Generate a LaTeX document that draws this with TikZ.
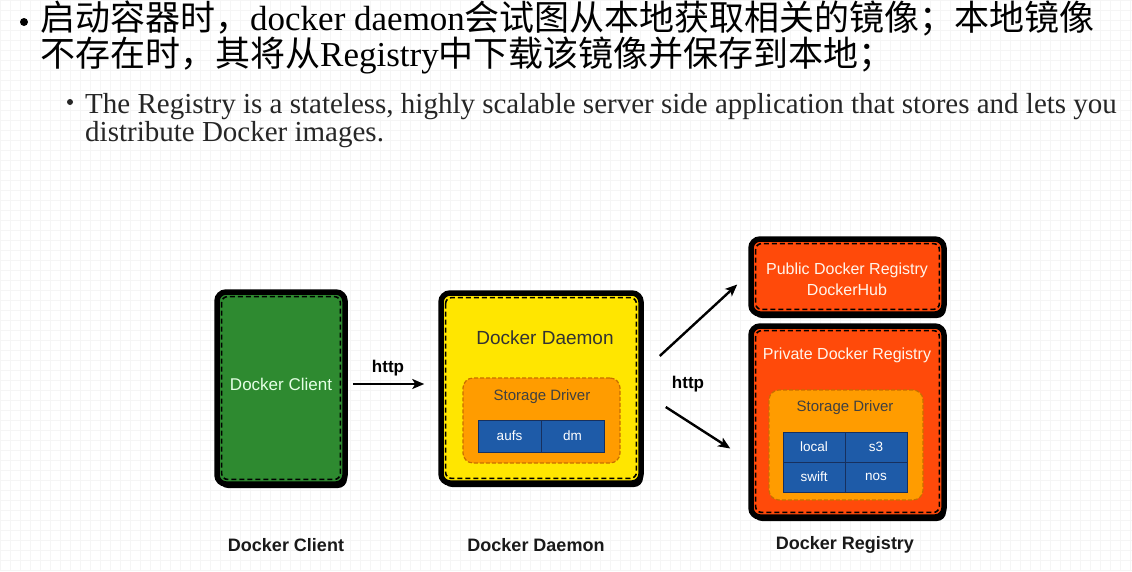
\documentclass[tikz,border=0pt]{standalone}
\usepackage{fontspec}
\setmainfont{Liberation Serif}
\newfontfamily\cjk{Noto Sans CJK SC}
\newfontfamily\dsans{Liberation Sans}
\usetikzlibrary{arrows.meta,shadows}

\definecolor{clientgreen}{HTML}{2E8A30}
\definecolor{daemonyellow}{HTML}{FFE600}
\definecolor{driverorange}{HTML}{FF9C00}
\definecolor{driveredge}{HTML}{C86E00}
\definecolor{regred}{HTML}{FF4A0A}
\definecolor{cellblue}{HTML}{1E5BA8}
\definecolor{celledge}{HTML}{17305E}

\tikzset{
	dockbox/.style={draw=black, line width=5.5pt, rounded corners=9pt, inner sep=0pt, fill=#1,
		drop shadow={shadow xshift=2pt, shadow yshift=-4pt, opacity=1, fill=black},
		path picture={\draw[black, line width=1.6pt, dash pattern=on 5pt off 3pt, rounded corners=6pt]
			([shift={(4.6pt,-4.6pt)}]path picture bounding box.north west) rectangle
			([shift={(-4.6pt,4.6pt)}]path picture bounding box.south east);}},
	driverbox/.style={fill=driverorange, draw=driveredge, line width=1.2pt, dash pattern=on 4pt off 2pt,
		rounded corners=10pt, inner sep=0pt},
	cell/.style={fill=cellblue, draw=celledge, line width=1pt, inner sep=0pt, text=white,
		font=\dsans\fontsize{13.5}{14}\selectfont},
	boxtxt/.style={font=\dsans\fontsize{#1}{#1}\selectfont},
	legend/.style={font=\dsans\bfseries\fontsize{18}{18}\selectfont, text=black!90},
	dot/.style={circle, fill=#1, inner sep=0pt},
	arr/.style={line width=2.4pt, -{Stealth[length=12pt,width=10pt,inset=3pt]}},
}

\begin{document}
\begin{tikzpicture}[x=1pt,y=-1pt]
	\useasboundingbox (0,0) rectangle (1132,571);
	\fill[white] (0,0) rectangle (1132,571);
	\draw[black!4, line width=0.4pt] (0,0) grid[step=10pt] (1132,571);

	% text above the diagram
	\node[dot=black, minimum size=8pt] (dot1) at (24,22) {};
	\node[anchor=base west, inner sep=0pt, font=\fontsize{35}{35}\selectfont] (line1) at (40,30)
		{{\cjk 启动容器时，}docker daemon{\cjk 会试图从本地获取相关的镜像；本地镜像}};
	\node[anchor=base west, inner sep=0pt, font=\fontsize{35}{35}\selectfont] (line2) at (40,66)
		{{\cjk 不存在时，其将从}Registry{\cjk 中下载该镜像并保存到本地；}};
	\node[dot=black!85, minimum size=6pt] (dot2) at (70,102) {};
	\node[anchor=base west, inner sep=0pt, font=\fontsize{29}{29}\selectfont, text=black!85] (line3) at (85,113)
		{The Registry is a stateless, highly scalable server side application that stores and lets you};
	\node[anchor=base west, inner sep=0pt, font=\fontsize{29}{29}\selectfont, text=black!85] (line4) at (85,141)
		{distribute Docker images.};

	% client and daemon
	\node[dockbox=clientgreen, minimum width=128pt, minimum height=192pt] (client) at (281,388) {};
	\node[boxtxt=17, text=green!10!white] (clienttxt) at (281,384) {Docker Client};

	\node[dockbox=daemonyellow, minimum width=200pt, minimum height=190pt] (daemon) at (541,388) {};
	\node[boxtxt=19, text=black!80] (daemontxt) at (545,338) {Docker Daemon};
	\node[driverbox, minimum width=157pt, minimum height=85pt] (ddriver) at (541.5,420.5) {};
	\node[boxtxt=15, text=black!75] (ddrivertxt) at (542,397) {Storage Driver};
	\node[cell, minimum width=63pt, minimum height=32pt] (aufs) at (509.5,436) {aufs};
	\node[cell, minimum width=63pt, minimum height=32pt] (dm) at (572.5,436) {dm};

	% registries
	\node[dockbox=regred, minimum width=193pt, minimum height=75pt] (pub) at (847.5,276.5) {};
	\node[boxtxt=16, text=orange!8!white, align=center, font=\dsans\fontsize{16}{21}\selectfont] (pubtxt) at (847,279)
		{Public Docker Registry\\DockerHub};

	\node[dockbox=regred, minimum width=193pt, minimum height=191pt] (priv) at (847.5,421.5) {};
	\node[boxtxt=16, text=orange!8!white] (privtxt) at (847,355) {Private Docker Registry};
	\node[driverbox, minimum width=154pt, minimum height=110pt] (pdriver) at (846,445) {};
	\node[boxtxt=15, text=black!75] (pdrivertxt) at (845,408) {Storage Driver};
	\node[cell, minimum width=62pt, minimum height=30pt] (local) at (814,447) {local};
	\node[cell, minimum width=62pt, minimum height=30pt] (s3) at (876,447) {s3};
	\node[cell, minimum width=62pt, minimum height=30pt] (swift) at (814,477) {swift};
	\node[cell, minimum width=62pt, minimum height=30pt] (nos) at (876,477) {nos};

	% connectors
	\draw[arr] ([shift={(5,-4)}]client.east) -- ([shift={(-14,-4)}]daemon.west);
	\node[font=\dsans\bfseries\fontsize{17}{17}\selectfont] (http1) at (388,368) {http};
	\draw[arr] ([shift={(16,-32)}]daemon.east) -- ([shift={(-11,8)}]pub.west);
	\draw[arr] ([shift={(22,19)}]daemon.east) -- ([shift={(-18,27)}]priv.west);
	\node[font=\dsans\bfseries\fontsize{17}{17}\selectfont] (http2) at (688,384) {http};

	% legends
	\node[legend] (clientlbl) at (286,545) {Docker Client};
	\node[legend] (daemonlbl) at (536,545) {Docker Daemon};
	\node[legend] (reglbl) at (845,545) {Docker Registry};
\end{tikzpicture}
\end{document}
